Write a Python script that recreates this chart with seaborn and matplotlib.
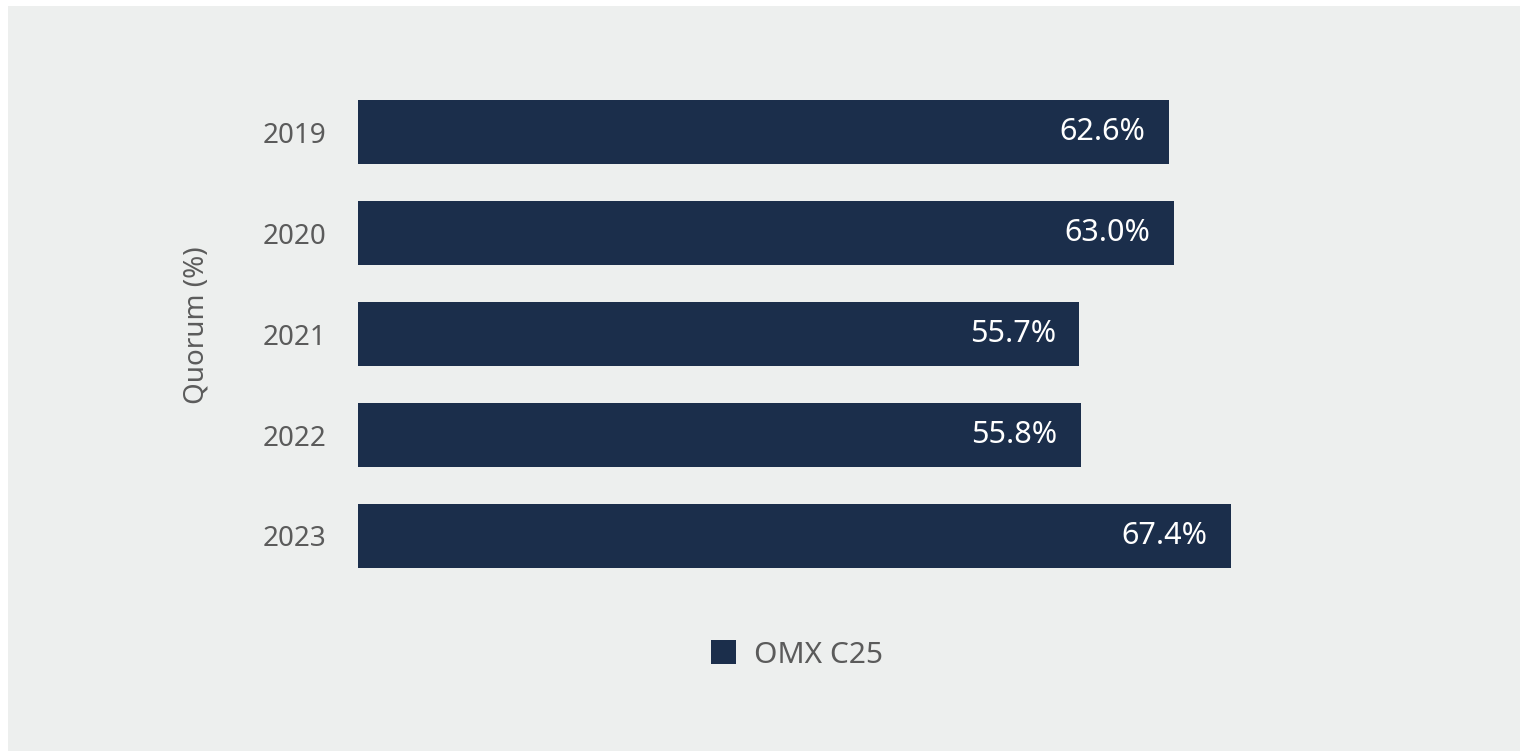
import matplotlib
matplotlib.use("Agg")
import matplotlib.pyplot as plt
from matplotlib.patches import Rectangle
import seaborn as sns
import pandas as pd

years = ["2019", "2020", "2021", "2022", "2023"]
quorum = [62.6, 63.0, 55.7, 55.8, 67.4]
series_name = "OMX C25"

navy = "#1b2e4b"
panel = "#edefee"
text_gray = "#5b5b5b"

sns.set_theme(style="white")
plt.rcParams["font.family"] = ["Noto Sans", "DejaVu Sans"]

W, H = 1520, 751
fig = plt.figure(figsize=(W / 100, H / 100), dpi=100, facecolor="white")
fig.patches.append(Rectangle((8 / W, 0), 1 - 8 / W, 1 - 6 / H, transform=fig.transFigure,
                             facecolor=panel, edgecolor="none", zorder=-10))

# axes: x=0 at 358px, 12.95 px per percentage point; rows 101 px apart
left, right = 358, 1488
top, bottom = 81.5, 586.5
ax = fig.add_axes([left / W, 1 - bottom / H, (right - left) / W, (bottom - top) / H])
ax.set_facecolor("none")

df = pd.DataFrame({"year": years, "quorum": quorum})
sns.barplot(data=df, x="quorum", y="year", orient="h", color=navy, width=0.634,
            saturation=1, linewidth=0, edgecolor="none", label=series_name, ax=ax)

ax.set_xlim(0, (right - left) / 12.95)
ax.set_ylim(4.5, -0.5)
for s in ax.spines.values():
    s.set_visible(False)
ax.set_xticks([])
ax.set_xlabel("")
ax.tick_params(axis="y", length=0, pad=23, labelsize=20, labelcolor=text_gray)
ax.set_ylabel("Quorum (%)", fontsize=20, color=text_gray)
ax.yaxis.set_label_coords(-(358 - 196) / (right - left), 1 - (325 - top) / (bottom - top))
ax.yaxis.label.set_va("center")

for i, v in enumerate(quorum):
    ax.annotate(f"{v:.1f}%", xy=(v, i), xytext=(-17, 0), textcoords="offset points",
                ha="right", va="center", color="white", fontsize=22)

leg = ax.legend(loc="center", bbox_to_anchor=(797 / W, 1 - 655 / H), bbox_transform=fig.transFigure,
                frameon=False, fontsize=21.5, handlelength=0.85, handleheight=0.85, handletextpad=0.6,
                labelcolor=text_gray)

fig.savefig("out.png", dpi=100, facecolor="white")
